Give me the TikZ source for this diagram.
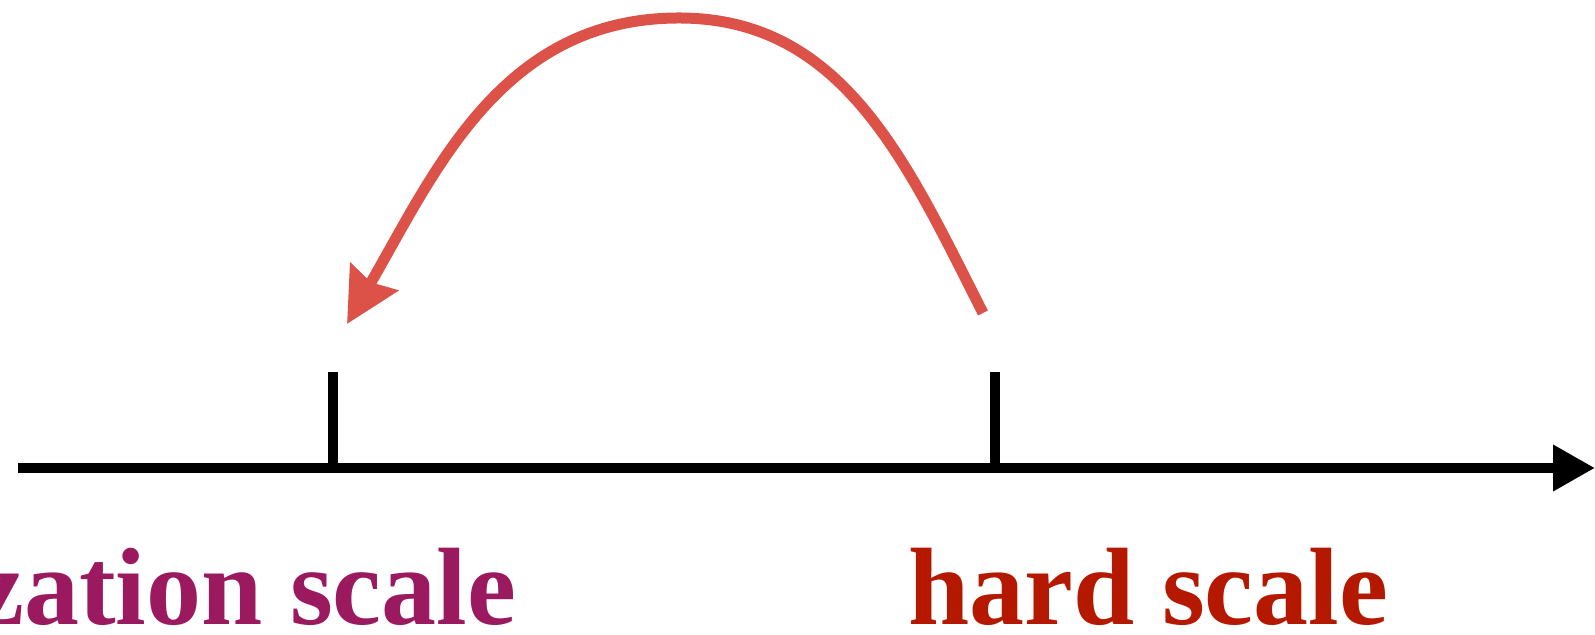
\documentclass[tikz,border=0pt]{standalone}
\usepackage{fontspec}
\setmainfont{Liberation Serif}[BoldFont={Liberation Serif Bold}]
\usetikzlibrary{arrows.meta}

\definecolor{scalepurple}{RGB}{155,25,95}
\definecolor{scalered}{RGB}{180,25,0}
\definecolor{jumpred}{RGB}{220,82,72}

\tikzset{
  scalelabel/.style={anchor=base west, inner sep=0pt, font=\fontsize{55}{60}\selectfont\bfseries},
  thickline/.style={line width=5pt},
}

\begin{document}
\begin{tikzpicture}[x=0.5pt, y=0.5pt]
        \useasboundingbox (0,0) rectangle (1595,635);

        \coordinate (axis-0) at (18, 167);
        \coordinate (axis-1) at (1595, 167);

        \coordinate (tick-1) at (333, 167);
        \coordinate (tick-1-top) at (333, 263);
        \coordinate (tick-2) at (995, 167);
        \coordinate (tick-2-top) at (995, 263);

        \coordinate (jump-start) at (983, 322);
        \coordinate (jump-top) at (679, 617);
        \coordinate (jump-end) at (347, 311);

        \node (label-1) at (-25, 10) [scalelabel, text=scalepurple] {zation scale};
        \node (label-2) at (908, 10) [scalelabel, text=scalered] {hard scale};

        \draw[thickline, -{Triangle[length=21pt, width=22pt]}] (axis-0) -- (axis-1);

        \draw[thickline] (tick-1) -- (tick-1-top);
        \draw[thickline] (tick-2) -- (tick-2-top);

        \draw[thickline, line width=5.5pt, jumpred, -{Stealth[length=27pt, width=27pt, inset=3pt]}]
            (jump-start) to[out=117, in=0] (jump-top) to[out=180, in=60] (jump-end);

    \end{tikzpicture}
\end{document}
